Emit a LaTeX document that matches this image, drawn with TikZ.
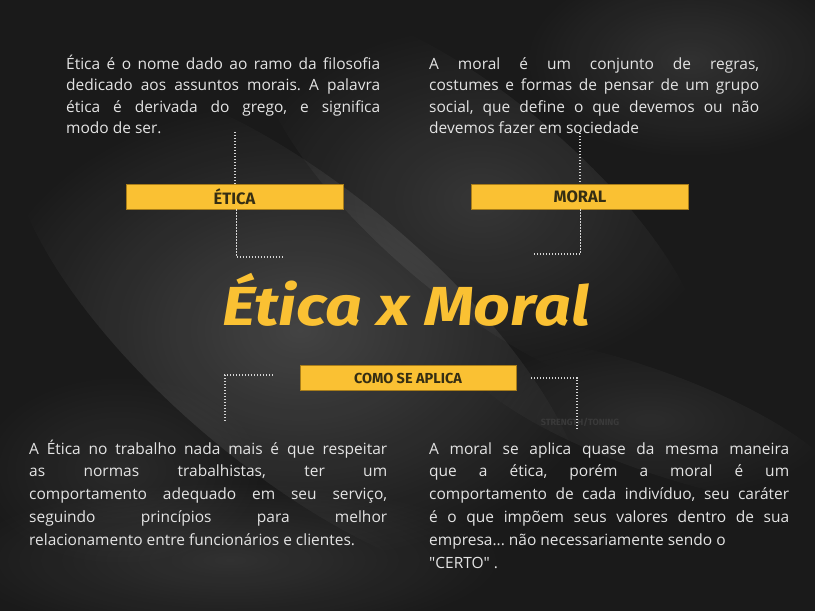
\documentclass[tikz,border=0pt]{standalone}
\usepackage{fontspec}
\setmainfont{Open Sans}[Ligatures=TeXOff]
\newfontfamily\titlefont{Fira Sans}
\usetikzlibrary{fadings}
\definecolor{bg}{HTML}{1A1A1A}
\definecolor{gold}{HTML}{FAC133}
\definecolor{goldedge}{HTML}{A87D1A}
\definecolor{labeltxt}{HTML}{352E13}
\definecolor{bodytxt}{HTML}{E4E4E4}
\definecolor{dotc}{HTML}{D6D6D6}
\definecolor{faint}{HTML}{3A3A3A}
\tikzfading[name=softblob, inner color=transparent!0, outer color=transparent!100]
\hyphenpenalty=10000
\emergencystretch=20pt
\frenchspacing
\begin{document}
\begin{tikzpicture}[x=1pt,y=-1pt,
  body/.style={inner sep=0pt, text=bodytxt, align=justify, anchor=base west,
    font=\fontsize{15.5}{21.5}\selectfont},
  bodylow/.style={body, font=\fontsize{15.5}{22.8}\selectfont},
  tag/.style={fill=gold, draw=goldedge, line width=0.8pt, minimum height=25pt,
    minimum width=217pt, inner sep=0pt, text=labeltxt,
    font=\titlefont\bfseries\fontsize{16.5}{16.5}\selectfont},
  dotline/.style={draw=dotc, line width=1.4pt, dash pattern=on 1.3pt off 1.7pt},
  blob/.style={fill=white, path fading=softblob}]
\useasboundingbox (0,0) rectangle (815,611);
\fill[bg] (0,0) rectangle (815,611);
% blurred photo background
\begin{scope}
\clip (0,0) rectangle (815,611);
\fill[blob, opacity=0.18, rotate around={-40:(300,330)}] (300,330) ellipse (360 and 140);
\fill[blob, opacity=0.12, rotate around={-40:(480,200)}] (480,200) ellipse (280 and 100);
\fill[blob, opacity=0.10] (690,60) ellipse (170 and 100);
\fill[blob, opacity=0.10] (230,560) ellipse (280 and 80);
\fill[blob, opacity=0.08, rotate around={-20:(650,420)}] (650,420) ellipse (200 and 50);
\fill[blob, opacity=0.07] (120,470) ellipse (150 and 100);
\end{scope}

% texts
\node[body, text width=314pt] (tA) at (66,69)
  {Ética é o nome dado ao ramo da filosofia\linebreak
   dedicado aos assuntos morais. A palavra\linebreak
   ética é derivada do grego, e significa\linebreak
   modo de ser.};
\node[body, text width=330pt] (tM) at (429,69)
  {A moral é um conjunto de regras,\linebreak
   costumes e formas de pensar de um grupo\linebreak
   social, que define o que devemos ou não\linebreak
   devemos fazer em sociedade};
\node[bodylow, text width=358pt] (bl) at (29,454)
  {A Ética no trabalho nada mais é que respeitar\linebreak
   as normas trabalhistas, ter um\linebreak
   comportamento adequado em seu serviço,\linebreak
   seguindo princípios para melhor\linebreak
   relacionamento entre funcionários e clientes.};
\node[bodylow, text width=360pt] (br) at (429,454)
  {A moral se aplica quase da mesma maneira\linebreak
   que a ética, porém a moral é um\linebreak
   comportamento de cada indivíduo, seu caráter\linebreak
   é o que impõem seus valores dentro de sua\linebreak
   empresa... não necessariamente sendo o\newline
   "CERTO" .};

% tags
\node[tag] (bE) at (234.5,196.5) {ÉTICA};
\node[tag] (bM) at (580,196.5) {MORAL};
\node[tag, minimum width=216pt, font=\titlefont\bfseries\fontsize{14.5}{14.5}\selectfont] (bC) at (408,378) {COMO SE APLICA};

% title
\node[anchor=base, inner sep=0pt, text=gold,
  font=\titlefont\bfseries\itshape\fontsize{55}{55}\selectfont] (title) at (406,325)
  {\scalebox{1.17}[1]{Ética x Moral}};

% faint watermark
\node[inner sep=0pt, text=faint, font=\titlefont\bfseries\fontsize{9}{9}\selectfont] (wm) at (580,422) {STRENGTH/TONING};

% connector end points
\coordinate (eTop) at (235,132);
\coordinate (eBot) at (283,257);
\coordinate (mTop) at (580,133);
\coordinate (mBot) at (533,254);
\coordinate (cL) at (273,375);
\coordinate (cLend) at (225,422);
\coordinate (cR) at (531,378);
\coordinate (cRend) at (577,429);

% connectors
\draw[dotline] (eTop) -- (eTop |- bE.north);
\draw[dotline] (bE.south -| 236.5,0) |- (eBot);
\draw[dotline] (mTop) -- (mTop |- bM.north);
\draw[dotline] (bM.south -| 580.5,0) |- (mBot);
\draw[dotline] (cL) -| (cLend);
\draw[dotline] (cR) -| (cRend);
\end{tikzpicture}
\end{document}
